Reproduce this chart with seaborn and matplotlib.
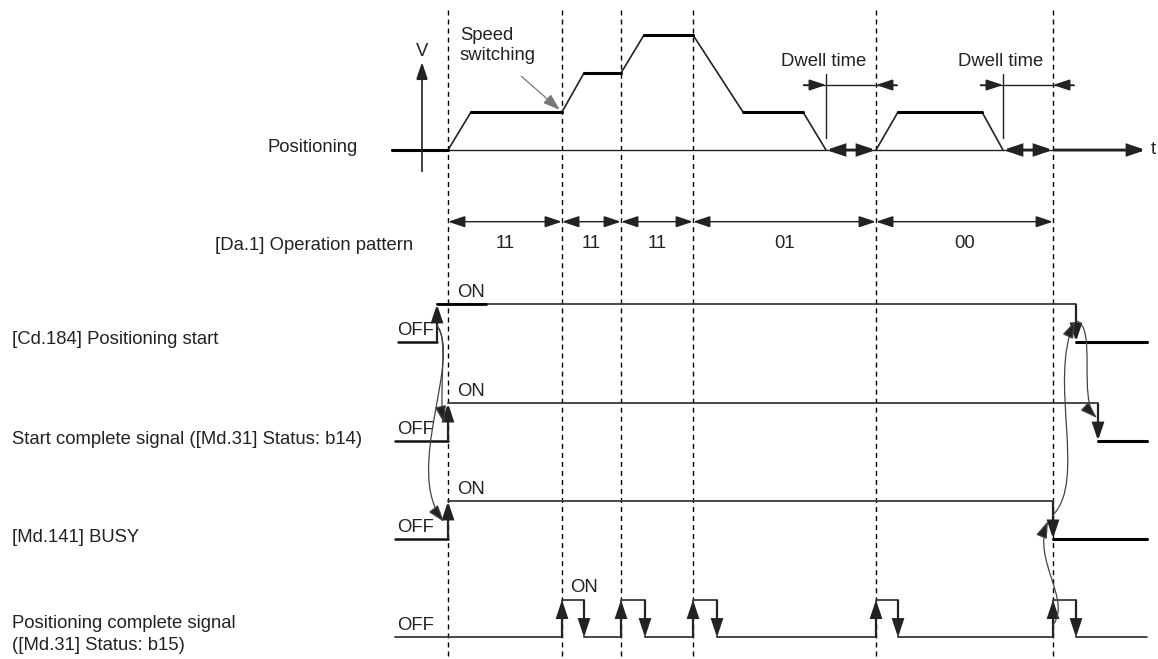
import numpy as np
import pandas as pd
import seaborn as sns
import matplotlib
matplotlib.use("Agg")
import matplotlib.pyplot as plt
from matplotlib.patches import FancyArrowPatch
from matplotlib.path import Path

# ---------------- data ----------------
# event times (dashed guide lines)
event_t = [448, 562, 621, 693, 876, 1053]
pattern_labels = ["11", "11", "11", "01", "00"]

# velocity profile (time, speed) ; speed measured upward from the baseline
vel_t1 = [392, 448, 471, 562, 584, 621, 644, 693, 743, 803, 826]
vel_v1 = [0, 0, 38, 38, 77, 77, 115, 115, 38, 38, 0]
vel_t2 = [876, 898, 982, 1003]
vel_v2 = [0, 38, 38, 0]
dwell_start = [826, 1003]
dwell_end = [876, 1053]

# signals: start time, rise time, fall time, end time
sig_names = ["[Cd.184] Positioning start",
             "Start complete signal ([Md.31] Status: b14)",
             "[Md.141] BUSY"]
sig_start = [398, 395, 395]
sig_rise = [437, 448, 448]
sig_fall = [1076, 1098, 1053]
sig_end = [1147, 1147, 1147]
sig_off_y = [341.7, 440.8, 538.7]

# positioning complete pulses
pc_rise = [562, 621, 693, 876, 1053]
pc_fall = [584, 645, 717, 898, 1076]
pc_start, pc_end = 395, 1147
pc_off_y = 637.3
amp = 37.5

BASE = 150
INK = "#222222"

# ---------------- figure ----------------
sns.set_theme(style="white")
plt.rcParams["font.family"] = ["Liberation Sans", "DejaVu Sans"]
fig = plt.figure(figsize=(11.58, 6.59), dpi=100)
ax = fig.add_axes([0, 0, 1, 1])
ax.set_xlim(0, 1158)
ax.set_ylim(659, 0)
ax.axis("off")
FS = 13.3


def arrow(p0, p1, style="-|>", lw=1.2, color=INK, hl=0.75, hw=0.25, ms=14, z=3):
    a = FancyArrowPatch(p0, p1, arrowstyle=f"{style},head_length={hl},head_width={hw}",
                        mutation_scale=ms, lw=lw, color=color, shrinkA=0, shrinkB=0,
                        joinstyle="miter", capstyle="butt", zorder=z)
    ax.add_patch(a)


def curve(pts, lw=0.9, color="#444444"):
    codes = [Path.MOVETO, Path.CURVE4, Path.CURVE4, Path.CURVE4]
    p = Path(pts, codes)
    a = FancyArrowPatch(path=p, arrowstyle="-|>,head_length=0.75,head_width=0.25",
                        mutation_scale=14, lw=lw, color=color, zorder=4)
    a.set_facecolor(INK)
    ax.add_patch(a)


def line(xs, ys, lw=1.2, color=INK, z=2):
    df = pd.DataFrame({"x": xs, "y": ys})
    sns.lineplot(data=df, x="x", y="y", ax=ax, estimator=None, sort=False,
                 color=color, linewidth=lw, zorder=z, legend=False)


# dashed guide lines
ax.vlines(event_t, 10, 656, colors="black", linestyles=(0, (3.6, 2.9)), lw=1.0, zorder=1)

# ---------------- velocity ----------------
ax.text(422, 51, "V", ha="center", va="center", fontsize=FS, color=INK)
arrow((422, 172), (422, 62), lw=1.2)
ax.text(460, 35, "Speed", ha="left", va="center", fontsize=FS, color=INK)
ax.text(460, 55, "switching", ha="left", va="center", fontsize=FS, color=INK)
arrow((521, 76), (560, 110), lw=0.9, color="#777777")
ax.text(358, 148, "Positioning", ha="right", va="center", fontsize=FS, color=INK)

# baseline + time arrow
line([392, 1140], [BASE, BASE], lw=1.0)
arrow((dwell_end[-1], BASE), (1146, BASE), lw=2.0, hl=0.75, hw=0.25)
ax.text(1151, BASE, "t", ha="left", va="center", fontsize=FS, color=INK)

for ts, vs in [(vel_t1, vel_v1), (vel_t2, vel_v2)]:
    ys = [BASE - v for v in vs]
    line(ts, ys, lw=1.2)
    for i in range(len(ts) - 1):
        if vs[i] == vs[i + 1]:
            line(ts[i:i + 2], ys[i:i + 2], lw=2.2, color="black")

for a, b in zip(dwell_start, dwell_end):
    arrow((a, BASE), (b, BASE), style="<|-|>", lw=2.0)
    # dwell-time dimension
    ax.plot([a, a], [74, 138], color=INK, lw=1.0)
    ax.plot([a - 23, b + 21], [85, 85], color=INK, lw=1.0)
    arrow((a - 23, 85), (a, 85), lw=1.0)
    arrow((b + 21, 85), (b, 85), lw=1.0)
    ax.text((a + b) / 2 - 27, 62, "Dwell time", ha="center", va="center",
            fontsize=FS, color=INK)

# ---------------- operation pattern ----------------
ax.text(215, 246, "[Da.1] Operation pattern", ha="left", va="center", fontsize=FS, color=INK)
for i, lab in enumerate(pattern_labels):
    a, b = event_t[i], event_t[i + 1]
    arrow((a, 221.7), (b, 221.7), style="<|-|>", lw=1.0)
    ax.text((a + b) / 2, 244, lab, ha="center", va="center", fontsize=FS, color=INK)

# ---------------- signals ----------------
label_y = [340, 440, 537]
for k in range(3):
    off, on = sig_off_y[k], sig_off_y[k] - amp
    s, r, f, e = sig_start[k], sig_rise[k], sig_fall[k], sig_end[k]
    line([s, r], [off, off], lw=1.8, color="#111111")
    line([r, f], [on, on], lw=1.3, color="#3a3a3a")
    line([f, e], [off, off], lw=2.2, color="black")
    arrow((r, off), (r, on), lw=1.6)
    arrow((f, on), (f, off), lw=1.6)
    ax.text(457, on - 12, "ON", ha="left", va="center", fontsize=FS, color=INK)
    ax.text(397, off - 11, "OFF", ha="left", va="center", fontsize=FS, color=INK)
    ax.text(12, label_y[k], sig_names[k], ha="left", va="center", fontsize=FS, color=INK)
# thick beginning of the first ON level
line([sig_rise[0], 486], [sig_off_y[0] - amp] * 2, lw=2.0, color="black")

# positioning complete
xs = [pc_start]
ys = [pc_off_y]
for r, f in zip(pc_rise, pc_fall):
    xs += [r, r, f, f]
    ys += [pc_off_y, pc_off_y - amp, pc_off_y - amp, pc_off_y]
xs.append(pc_end)
ys.append(pc_off_y)
line(xs, ys, lw=1.3, color="#3a3a3a")
for r, f in zip(pc_rise, pc_fall):
    arrow((r, pc_off_y), (r, pc_off_y - amp), lw=1.6)
    arrow((f, pc_off_y - amp), (f, pc_off_y), lw=1.6)
ax.text(570, 588, "ON", ha="left", va="center", fontsize=FS, color=INK)
ax.text(397, 625, "OFF", ha="left", va="center", fontsize=FS, color=INK)
ax.text(12, 623, "Positioning complete signal", ha="left", va="center", fontsize=FS, color=INK)
ax.text(12, 646, "([Md.31] Status: b15)", ha="left", va="center", fontsize=FS, color=INK)

# ---------------- causal curves ----------------
curve([(437, 326), (449, 336), (438, 395), (444, 423)])
curve([(437, 326), (462, 360), (403, 470), (444, 522)])
curve([(1053, 625), (1072, 600), (1032, 560), (1048, 521)])
curve([(1053, 515), (1087, 480), (1048, 380), (1075, 321)])
curve([(1076, 321), (1097, 325), (1078, 400), (1097, 418)])

fig.savefig("out.png", dpi=100)
